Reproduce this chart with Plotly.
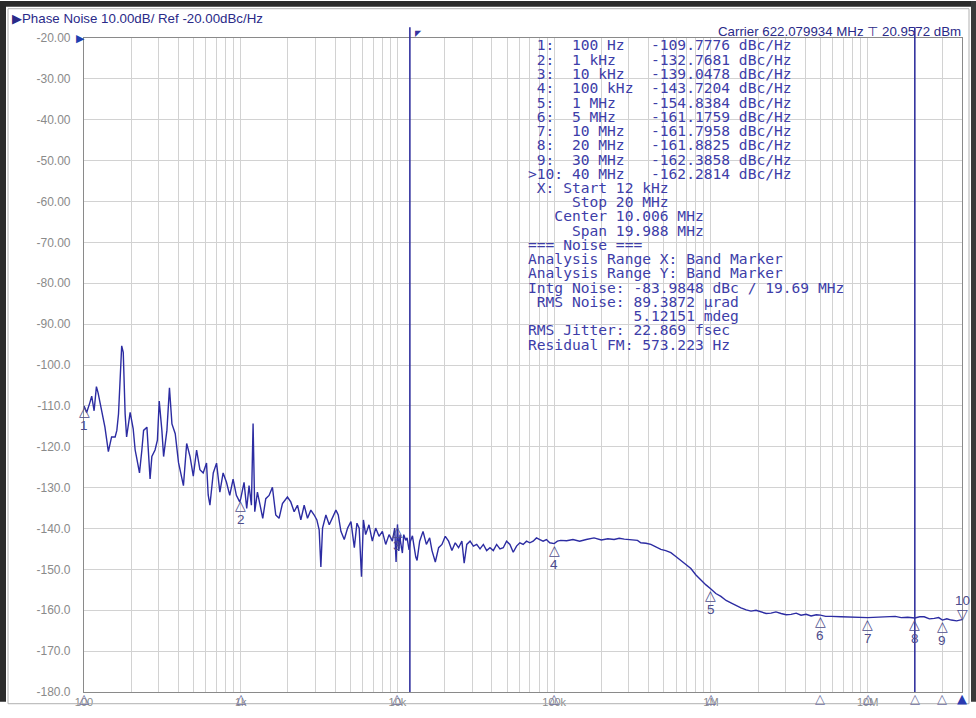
import math
import plotly.graph_objects as go

# ---------------- data ----------------
freq_hz = [
    100, 104, 109, 112, 116, 120, 123, 130, 136, 143, 150, 158, 162, 166, 170, 174, 178,
    183, 187, 197, 206, 212, 217, 226, 234, 240, 252, 264, 271, 284, 294, 302, 314, 322,
    338, 351, 364, 382, 401, 431, 452, 475, 498, 523, 549, 576, 605, 620, 636, 668, 701,
    736, 772, 811, 851, 894, 938, 985,
    1000, 1050, 1092, 1130, 1170, 1199, 1229, 1278, 1329, 1382, 1445, 1517, 1593, 1673,
    1757, 1846, 1986, 2086, 2192, 2302, 2418, 2540, 2667, 2802, 2943, 3060, 3166, 3246,
    3327, 3495, 3671, 3856, 4050, 4191, 4358, 4577, 4808, 5051, 5306, 5514, 5700, 5894,
    6065, 6265, 6581, 6913, 7261, 7627, 8011, 8415, 8840, 9285, 9604, 9800, 10000, 10200,
    10390, 10450, 10750, 10970, 11290, 11520, 11860, 12100, 12460, 12700, 13090, 13340,
    13860, 14560, 15290, 16050, 16610, 17440, 18310, 19230, 20190, 21200, 22260, 23370,
    24540, 25770, 26650, 27680, 29060, 30510, 32040, 33640, 35320, 37090, 38940, 40890,
    42930, 45080, 47330, 49700, 52180, 54790, 57530, 60400, 63420, 66590, 69920, 73420,
    77090, 80940, 84990, 89240, 93700, 100000, 104800, 110000, 120000, 131800, 145300,
    160200, 179600, 200000, 220000, 241100, 260000, 280000, 310000, 340100, 357000,
    385000, 413600, 445000, 479300, 515000, 555200, 600000, 643200, 690000, 745200,
    800000, 863500, 930000, 1000000, 1075000, 1158000, 1250000, 1342000, 1450000,
    1555000, 1680000, 1801000, 1940000, 2087000, 2250000, 2418000, 2600000, 2801000,
    3020000, 3245000, 3500000, 3760000, 4050000, 4356000, 4700000, 5000000, 5400000,
    5847000, 6300000, 6774000, 10000000, 13460000, 15000000, 16370000, 18000000,
    20000000, 21500000, 22960000, 24800000, 26600000, 28400000, 30000000, 32000000,
    34160000, 37000000, 40000000,
]
phase_noise_dbc = [
    -110.0, -111.6, -109.2, -107.6, -111.2, -105.3, -106.8, -112.0, -115.2, -121.2, -117.6,
    -117.6, -116.0, -112.0, -104.9, -95.3, -96.9, -112.0, -117.6, -111.6, -115.6, -120.8,
    -122.8, -126.4, -120.8, -116.0, -115.2, -127.9, -122.4, -120.8, -118.4, -108.8, -116.0,
    -122.4, -116.0, -105.6, -114.4, -116.8, -123.9, -129.5, -119.2, -122.4, -127.2, -120.8,
    -125.6, -126.4, -124.0, -131.8, -134.3, -126.4, -124.0, -131.1, -126.4, -128.7, -131.9,
    -127.9, -131.9, -133.5,
    -132.7, -128.7, -135.1, -129.5, -134.3, -114.3, -135.9, -131.1, -134.3, -137.5, -132.7,
    -131.9, -129.9, -136.7, -137.5, -133.9, -132.3, -133.5, -135.9, -134.3, -137.9, -134.3,
    -137.5, -135.5, -136.7, -137.9, -140.3, -149.4, -139.9, -136.7, -139.1, -137.5, -135.5,
    -136.7, -140.7, -142.7, -139.9, -138.3, -144.7, -138.7, -139.9, -151.8, -137.9, -141.5,
    -139.1, -143.1, -139.9, -141.9, -140.7, -143.9, -141.5, -143.1, -139.9, -148.2, -139.0,
    -145.5, -141.5, -143.1, -146.0, -141.5, -142.9, -142.3, -145.2, -143.1, -141.8, -143.9,
    -147.0, -147.8, -143.1, -140.7, -143.9, -142.3, -145.4, -148.2, -144.7, -143.9, -141.9,
    -143.1, -145.4, -143.5, -144.7, -143.1, -148.5, -143.9, -143.1, -144.3, -143.9, -145.0,
    -143.9, -145.4, -144.7, -145.4, -143.9, -145.0, -144.7, -143.1, -143.9, -145.8, -144.3,
    -143.5, -143.9, -143.1, -143.5, -143.1, -142.3, -142.7, -143.1, -142.7, -143.5, -143.7,
    -143.1, -142.9, -143.0, -142.7, -143.1, -142.7, -142.3, -142.8, -142.5, -142.7, -142.4,
    -142.6, -142.8, -142.9, -143.5, -143.6, -143.9, -144.6, -145.1, -145.4, -145.9, -146.9,
    -147.8, -148.6, -149.8, -151.3, -152.6, -153.8, -154.8, -155.9, -156.6, -157.6, -158.2,
    -158.9, -159.4, -159.9, -160.2, -160.0, -160.4, -160.8, -160.7, -160.4, -160.8, -161.1,
    -161.0, -160.7, -161.2, -161.0, -161.4, -161.1, -161.2, -161.5, -161.5, -161.6, -161.6,
    -161.8, -161.7, -161.5, -161.8, -161.7, -161.9, -161.6, -161.6, -162.1, -162.0, -161.8,
    -162.4, -162.1, -162.4, -162.6, -162.3,
]

marker_ids = [1, 2, 3, 4, 5, 6, 7, 8, 9, 10]
marker_freq_hz = [100, 1e3, 1e4, 1e5, 1e6, 5e6, 10e6, 20e6, 30e6, 40e6]
marker_freq_text = ["100 Hz", "1 kHz", "10 kHz", "100 kHz", "1 MHz", "5 MHz",
                    "10 MHz", "20 MHz", "30 MHz", "40 MHz"]
marker_dbc = [-109.7776, -132.7681, -139.0478, -143.7204, -154.8384, -161.1759,
              -161.7958, -161.8825, -162.3858, -162.2814]
active_marker = 10

band_start_hz = 12e3
band_stop_hz = 20e6

y_tick_vals = list(range(-20, -181, -10))
y_tick_text = ["-20.00", "-30.00", "-40.00", "-50.00", "-60.00", "-70.00", "-80.00",
               "-90.00", "-100.0", "-110.0", "-120.0", "-130.0", "-140.0", "-150.0",
               "-160.0", "-170.0", "-180.0"]
x_decades = [100, 1e3, 1e4, 1e5, 1e6, 1e7]
x_decade_text = ["100", "1k", "10k", "100k", "1M", "10M"]
x_max_hz = 40e6

info_lines = [
    " X: Start 12 kHz",
    "     Stop 20 MHz",
    "   Center 10.006 MHz",
    "     Span 19.988 MHz",
    "=== Noise ===",
    "Analysis Range X: Band Marker",
    "Analysis Range Y: Band Marker",
    "Intg Noise: -83.9848 dBc / 19.69 MHz",
    " RMS Noise: 89.3872 \u00b5rad",
    "            5.12151 mdeg",
    "RMS Jitter: 22.869 fsec",
    "Residual FM: 573.223 Hz",
]

# ---------------- layout geometry ----------------
W, H = 976, 718
ML, MR, MT, MB = 84, 14, 38, 10
PW, PH = W - ML - MR, H - MT - MB


def px(x, y):
    return (x - ML) / PW, (H - MB - y) / PH


TRACE = "#2c2ca2"
TXT = "#3d3da8"
GRID = "#d2d2d2"

# grid tick values (1..9 per decade)
grid_vals, grid_text = [], []
for d, lab in zip(x_decades, x_decade_text):
    for n in range(1, 10):
        v = n * d
        if v <= x_max_hz * 1.0001:
            grid_vals.append(v)
            grid_text.append(lab if n == 1 else "")

fig = go.Figure()
fig.add_trace(go.Scatter(x=freq_hz, y=phase_noise_dbc, mode="lines",
                         line=dict(color=TRACE, width=1.4), hoverinfo="skip",
                         showlegend=False))

ann = []
shapes = []

# band marker lines
for f in (band_start_hz, band_stop_hz):
    shapes.append(dict(type="line", xref="x", yref="paper", x0=f, x1=f,
                       y0=0, y1=px(0, 27)[1], line=dict(color="#3434a0", width=1.6)))

# markers on trace
MK = "#4c4c8c"
for mid, f, v in zip(marker_ids, marker_freq_hz, marker_dbc):
    lx = math.log10(f)
    if mid == active_marker:
        ann.append(dict(x=lx, y=v, xref="x", yref="y", text="\u25bd", showarrow=False,
                        yanchor="bottom", yshift=-4,
                        font=dict(size=14, color=MK, family="DejaVu Sans")))
        ann.append(dict(x=lx, y=v, xref="x", yref="y", text=str(mid), showarrow=False,
                        yanchor="bottom", yshift=10,
                        font=dict(size=13.5, color=MK, family="Liberation Sans")))
    else:
        ann.append(dict(x=lx, y=v, xref="x", yref="y", text="\u25b3", showarrow=False,
                        yanchor="top", yshift=4,
                        font=dict(size=14, color=MK, family="DejaVu Sans")))
        ann.append(dict(x=lx, y=v, xref="x", yref="y", text=str(mid), showarrow=False,
                        yanchor="top", yshift=-11,
                        font=dict(size=13.5, color=MK, family="Liberation Sans")))
    # bottom axis marker triangles
    ann.append(dict(x=lx, y=0, xref="x", yref="paper",
                    text="\u25b2" if mid == active_marker else "\u25b3",
                    showarrow=False, yanchor="top", yshift=3,
                    font=dict(size=13, color="#2a3ab0" if mid == active_marker else "#7070a0",
                              family="DejaVu Sans")))

# marker table
for i, (mid, ft, v) in enumerate(zip(marker_ids, marker_freq_text, marker_dbc)):
    lab = (">" if mid == active_marker else " ") + f"{mid}:"
    line = lab.ljust(5) + ft.ljust(9) + f"{v:.4f} dBc/Hz"
    xx, yy = px(526, 45 + i * 14.65)
    ann.append(dict(x=xx, y=yy, xref="paper", yref="paper", text=line.replace(" ", "\u00a0"),
                    showarrow=False, xanchor="left", yanchor="middle",
                    font=dict(family="DejaVu Sans Mono", size=14.6, color=TXT)))
for i, line in enumerate(info_lines):
    xx, yy = px(526, 191 + i * 14.6)
    ann.append(dict(x=xx, y=yy, xref="paper", yref="paper", text=line.replace(" ", "\u00a0"),
                    showarrow=False, xanchor="left", yanchor="middle",
                    font=dict(family="DejaVu Sans Mono", size=14.6, color=TXT)))

# header texts
xx, yy = px(10, 18)
ann.append(dict(x=xx, y=yy, xref="paper", yref="paper",
                text="\u25b6Phase Noise 10.00dB/ Ref -20.00dBc/Hz", showarrow=False,
                xanchor="left", yanchor="middle",
                font=dict(family="Liberation Sans", size=13.3, color="#2a2a88")))
xx, yy = px(963, 31)
ann.append(dict(x=xx, y=yy, xref="paper", yref="paper",
                text="Carrier 622.079934 MHz \u22a4 20.9572 dBm",
                showarrow=False, xanchor="right", yanchor="middle",
                font=dict(family="Liberation Sans", size=13.3, color="#2a2a88")))
xx, yy = px(80, 38)
ann.append(dict(x=xx, y=yy, xref="paper", yref="paper", text="\u25b6", showarrow=False,
                xanchor="center", yanchor="middle",
                font=dict(family="DejaVu Sans", size=11, color="#1f3fb0")))
xx, yy = px(413, 33)
ann.append(dict(x=xx, y=yy, xref="paper", yref="paper", text="\u25e4", showarrow=False,
                xanchor="left", yanchor="middle",
                font=dict(family="DejaVu Sans", size=8, color="#3434a0")))

# window frame
x0, y0 = px(0, 0)
x1, y1 = px(6, 718)
shapes.append(dict(type="rect", xref="paper", yref="paper", x0=x0, x1=x1, y0=y1, y1=y0,
                   fillcolor="#2a2a2a", line=dict(width=0), layer="above"))
x0, y0 = px(0, 0)
x1, y1 = px(976, 6)
shapes.append(dict(type="rect", xref="paper", yref="paper", x0=x0, x1=x1, y0=y1, y1=y0,
                   fillcolor="#2a2a2a", line=dict(width=0), layer="above"))
x0, y0 = px(971, 0)
x1, y1 = px(976, 718)
shapes.append(dict(type="rect", xref="paper", yref="paper", x0=x0, x1=x1, y0=y1, y1=y0,
                   fillcolor="#3a3a3a", line=dict(width=0), layer="above"))
x0, y0 = px(8, 8)
x1, y1 = px(969, 720)
shapes.append(dict(type="rect", xref="paper", yref="paper", x0=x0, x1=x1, y0=y1, y1=y0,
                   line=dict(color="#b0b0b0", width=1), layer="above"))

fig.update_layout(
    width=W, height=H,
    margin=dict(l=ML, r=MR, t=MT, b=MB),
    paper_bgcolor="white", plot_bgcolor="white",
    showlegend=False,
    annotations=ann, shapes=shapes,
    xaxis=dict(type="log", range=[2, math.log10(x_max_hz)], tickvals=grid_vals,
               ticktext=grid_text, showgrid=True, gridcolor=GRID, gridwidth=1,
               showline=True, linecolor="#8a8a8a", linewidth=1.2, mirror=True,
               ticks="", zeroline=False,
               tickfont=dict(family="Liberation Sans", size=11, color="#8a8a8a")),
    yaxis=dict(range=[-180, -20], tickvals=y_tick_vals, ticktext=y_tick_text,
               showgrid=True, gridcolor=GRID, gridwidth=1, showline=True,
               linecolor="#8a8a8a", linewidth=1.2, mirror=True, ticks="",
               zeroline=False, ticklabelstandoff=10,
               tickfont=dict(family="Liberation Sans", size=12, color="#8a8a8a")),
)

fig.write_html("out.html")
